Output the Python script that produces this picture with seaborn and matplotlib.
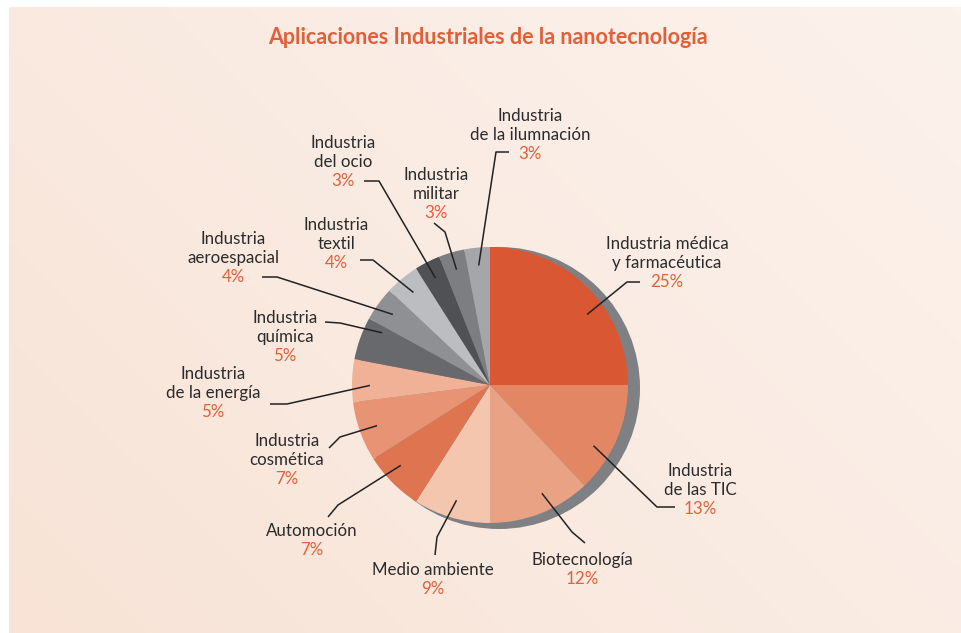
import numpy as np
import matplotlib
matplotlib.use("Agg")
import matplotlib.pyplot as plt
import seaborn as sns
from matplotlib.patches import Circle
from matplotlib.colors import LinearSegmentedColormap

sns.set_theme(style="white")
plt.rcParams['font.family'] = ['Lato', 'DejaVu Sans']

W, H = 961, 633

# Data (clockwise from 12 o'clock)
names = [
    "Industria médica\ny farmacéutica", "Industria\nde las TIC", "Biotecnología",
    "Medio ambiente", "Automoción", "Industria\ncosmética", "Industria\nde la energía",
    "Industria\nquímica", "Industria\naeroespacial", "Industria\ntextil",
    "Industria\ndel ocio", "Industria\nmilitar", "Industria\nde la ilumnación",
]
shares = [25, 13, 12, 9, 7, 7, 5, 5, 4, 4, 3, 3, 3]
colors = [
    "#d95733", "#e38664", "#e9a384", "#f4c6ae", "#de7450", "#e89474", "#f0b197",
    "#68696d", "#8f9094", "#bcbdc1", "#505155", "#7d7e82", "#a5a6aa",
]

# label layout (pixel coords): text centre x, first line y, elbow, end of leader
label_x = [667, 700, 582, 433, 312, 287, 213, 285, 233, 336, 343, 436, 530]
label_y = [244, 471, 560, 570, 531, 441, 374, 318, 239, 225, 143, 175, 116]
elbows = [(627, 282), (657, 507), (572, 532), (437, 537), (338, 505), (340, 437),
          (287, 404), (340, 323), (277, 277), (373, 260), (379, 181), (445, 232), (496, 152)]
ends = [(640, 282), (675, 507), (585, 543), (435, 555), (328, 517), (329, 448),
        (270, 404), (325, 322), (262, 277), (360, 260), (364, 181), (434, 223), (509, 152)]
anchor_shift = [-9, -7, 4, 0, -3, 0, 2, -6, 0, 0, 0, 0, 0]

cx, cy, R = 490, 385, 138
line_h = 18.8
txt_col = "#2b2b2b"
pct_col = "#e2603a"


def Y(y):
    return H - y


fig = plt.figure(figsize=(9.61, 6.33), dpi=100, facecolor="white")
ax = fig.add_axes([0, 0, 1, 1])
ax.set_xlim(0, W)
ax.set_ylim(0, H)
ax.axis("off")

# background panel: soft peach gradient, lighter towards the upper right
bg = LinearSegmentedColormap.from_list("bg", ["#f8e3d6", "#faebe2", "#fcf2ec"])
gx, gy = np.meshgrid(np.linspace(0, 1, 200), np.linspace(0, 1, 130))
grad = 0.6 * gx + 0.4 * gy
ax.imshow(grad, cmap=bg, extent=(9, W, 0, H - 7), origin="lower",
          aspect="auto", zorder=0, interpolation="bilinear")

# shadow disc
ax.add_patch(Circle((cx + 9, Y(cy + 3)), R + 3, facecolor="#7f8084", edgecolor="none", zorder=1))

wedges, _ = ax.pie(shares, colors=colors, startangle=90, counterclock=False,
                   center=(cx, Y(cy)), radius=R, wedgeprops=dict(linewidth=0))
for w in wedges:
    w.set_zorder(2)

ax.set_xlim(0, W)
ax.set_ylim(0, H)
ax.set_aspect("equal")

for w, name, s, lx, ly, (ex, ey), (fx, fy), da in zip(
        wedges, names, shares, label_x, label_y, elbows, ends, anchor_shift):
    mid = np.deg2rad((w.theta1 + w.theta2) / 2 + da)
    sx = cx + 0.87 * R * np.cos(mid)
    sy = Y(cy) + 0.87 * R * np.sin(mid)
    ax.plot([sx, ex, fx], [sy, Y(ey), Y(fy)], color="#222222", lw=1.1,
            solid_capstyle="butt", zorder=3)
    lines = name.split("\n")
    for i, ln in enumerate(lines):
        ax.text(lx, Y(ly + i * line_h), ln, ha="center", va="center",
                fontsize=12.2, color=txt_col, zorder=4)
    ax.text(lx, Y(ly + len(lines) * line_h), f"{s}%", ha="center", va="center",
            fontsize=12.2, color=pct_col, zorder=4)

ax.text(488, Y(38), "Aplicaciones Industriales de la nanotecnología", ha="center",
        va="center", fontsize=15.5, fontweight="bold", color="#e0603a", zorder=4)

fig.savefig("out.png", dpi=100, facecolor="white")
